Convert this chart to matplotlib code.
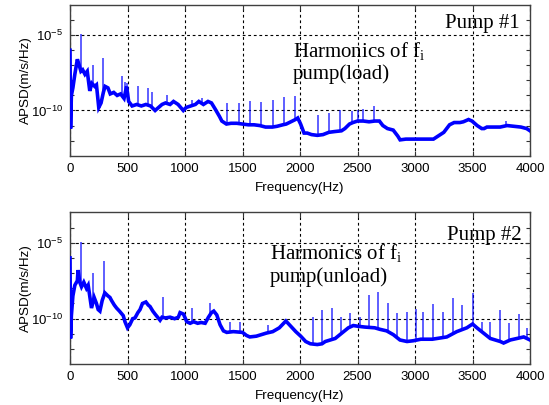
import numpy as np
import matplotlib
matplotlib.use("Agg")
import matplotlib.pyplot as plt
from matplotlib.ticker import FixedLocator, FuncFormatter, NullFormatter

# ---------------- data (log10 of APSD) ----------------
top_base_hz = [0, 5, 12, 25, 42, 64, 80, 95, 110, 130, 150, 172, 190, 215, 230, 250, 270, 290, 305,
               330, 350, 380, 410, 440, 470, 492, 510, 540, 580, 620, 660, 700, 740, 770, 800, 830,
               870, 900, 940, 985, 1010, 1050, 1090, 1120, 1160, 1200, 1230, 1262, 1300, 1320, 1360,
               1400, 1450, 1500, 1550, 1600, 1650, 1700, 1760, 1800, 1850, 1880, 1920, 1960, 1980,
               2005, 2035, 2063, 2100, 2150, 2200, 2250, 2300, 2360, 2390, 2430, 2460, 2500, 2550,
               2600, 2650, 2690, 2720, 2760, 2810, 2850, 2870, 2920, 3000, 3080, 3160, 3190, 3250,
               3300, 3340, 3390, 3420, 3465, 3495, 3540, 3580, 3600, 3625, 3680, 3740, 3800, 3860,
               3920, 3970, 4000]
top_base_log = [-6.0, -11.2, -9.0, -8.5, -7.6, -6.6, -7.0, -7.4, -7.3, -7.6, -7.4, -8.7, -8.2, -8.4,
                -8.3, -9.8, -9.5, -8.8, -8.4, -8.5, -8.9, -8.8, -9.0, -8.9, -9.2, -8.4, -9.4, -9.7,
                -9.6, -9.7, -9.6, -9.7, -10.0, -9.8, -9.6, -9.5, -9.6, -9.4, -9.6, -10.0, -9.8,
                -9.7, -9.6, -9.4, -9.6, -9.4, -9.5, -9.9, -10.4, -10.7, -10.9, -10.85, -10.85,
                -10.9, -10.95, -10.95, -11.0, -11.1, -11.1, -11.05, -10.95, -10.9, -10.75, -10.6,
                -10.5, -10.9, -11.5, -11.5, -11.6, -11.65, -11.6, -11.45, -11.4, -11.35, -11.2,
                -10.9, -10.8, -10.7, -10.7, -10.75, -10.7, -10.7, -11.0, -11.2, -11.3, -11.7,
                -11.95, -11.9, -11.9, -11.9, -11.9, -11.75, -11.45, -10.95, -10.8, -10.8, -10.75,
                -10.6, -10.7, -11.0, -11.2, -11.2, -11.1, -11.1, -11.1, -11.0, -11.05, -11.1,
                -11.2, -11.35]
top_spike_hz = [100, 201, 288, 449, 475, 492, 594, 681, 710, 840, 1060, 1150, 1365, 1470, 1565,
                1665, 1768, 1862, 1958, 2155, 2256, 2350, 2450, 2500, 2545, 2645, 3790]
top_spike_log = [-4.95, -6.95, -6.5, -7.7, -8.1, -8.2, -8.4, -8.5, -8.8, -8.96, -9.3, -9.2, -9.5,
                 -9.5, -9.4, -9.45, -9.3, -9.1, -9.05, -10.3, -10.15, -9.95, -10.05, -9.95, -9.9,
                 -9.7, -10.7]

bot_base_hz = [0, 5, 12, 25, 42, 64, 70, 85, 100, 120, 143, 158, 187, 210, 230, 245, 260, 280, 303,
               330, 347, 361, 385, 405, 430, 463, 478, 500, 520, 545, 565, 590, 609, 630, 660, 680,
               696, 720, 740, 783, 800, 830, 870, 910, 942, 957, 987, 1015, 1045, 1075, 1110, 1140,
               1175, 1204, 1230, 1250, 1276, 1305, 1334, 1363, 1420, 1500, 1534, 1563, 1620, 1706,
               1763, 1820, 1877, 1920, 1963, 2006, 2049, 2090, 2150, 2191, 2220, 2306, 2363, 2420,
               2463, 2506, 2563, 2650, 2695, 2753, 2811, 2869, 2930, 2985, 3050, 3150, 3276, 3363,
               3450, 3500, 3538, 3596, 3654, 3741, 3770, 3828, 3887, 3945, 4000]
bot_base_log = [-6.0, -11.3, -9.8, -8.5, -7.8, -7.5, -6.8, -7.6, -7.9, -7.6, -8.0, -7.8, -9.3,
                -8.6, -9.0, -9.4, -9.5, -8.8, -8.3, -8.5, -8.6, -8.8, -9.1, -9.3, -9.5, -9.8,
                -10.2, -10.6, -10.4, -10.0, -9.95, -9.6, -9.4, -9.0, -8.9, -9.1, -9.2, -9.5,
                -9.7, -10.1, -9.9, -9.95, -9.9, -10.0, -9.9, -9.6, -9.7, -10.2, -10.3, -10.2,
                -10.3, -10.25, -10.3, -9.9, -9.6, -9.5, -9.75, -10.4, -10.8, -10.9, -10.85,
                -10.9, -11.1, -11.2, -11.15, -10.95, -10.85, -10.6, -10.15, -10.5, -10.85,
                -11.15, -11.5, -11.65, -11.7, -11.65, -11.5, -11.3, -10.95, -10.6, -10.45,
                -10.5, -10.55, -10.6, -10.7, -10.8, -11.05, -11.4, -11.5, -11.45, -11.35,
                -11.35, -11.2, -10.85, -10.6, -10.35, -10.6, -10.95, -11.3, -11.5, -11.6,
                -11.4, -11.3, -11.2, -11.4]
bot_spike_hz = [100, 201, 295, 812, 1060, 1218, 1391, 1477, 1720, 2116, 2195, 2276, 2357, 2436,
                2520, 2600, 2682, 2767, 2840, 2927, 3009, 3073, 3160, 3241, 3328, 3407, 3500,
                3581, 3654, 3735, 3814, 3901, 3974]
bot_spike_log = [-4.93, -7.0, -6.2, -8.6, -9.3, -8.96, -10.2, -10.2, -10.4, -9.9, -9.45, -9.3,
                 -9.9, -9.6, -9.9, -8.45, -8.25, -8.95, -9.6, -9.55, -9.35, -9.55, -9.05, -9.55,
                 -8.65, -9.1, -8.3, -10.2, -10.2, -9.4, -10.3, -9.7, -10.6]

x_ticks = [0, 500, 1000, 1500, 2000, 2500, 3000, 3500, 4000]
y_major_exp = [-10, -5]
y_minor_exp = [-12, -11, -9, -8, -7, -6, -4]

panels = [
    dict(base_hz=top_base_hz, base_log=top_base_log, sp_hz=top_spike_hz, sp_log=top_spike_log,
         pump="Pump #1", line2="pump(load)", rect=[0.1275, 0.6156, 0.838, 0.372],
         pump_pos=(0.978, 0.847), harm_pos=(0.485, 0.652), line2_pos=(0.485, 0.509),
         xlab_y=-0.175),
    dict(base_hz=bot_base_hz, base_log=bot_base_log, sp_hz=bot_spike_hz, sp_log=bot_spike_log,
         pump="Pump #2", line2="pump(unload)", rect=[0.1275, 0.1005, 0.838, 0.3753],
         pump_pos=(0.982, 0.818), harm_pos=(0.435, 0.695), line2_pos=(0.435, 0.541),
         xlab_y=-0.169),
]

sans = "Liberation Sans"
serif = "Liberation Serif"
blue = "#0000ff"

fig = plt.figure(figsize=(5.49, 4.05), dpi=100)
fig.patch.set_facecolor("white")

def ylab_fmt(v, pos):
    e = int(round(np.log10(v)))
    return r"$\mathregular{10^{%d}}$" % e

for p in panels:
    ax = fig.add_axes(p["rect"])
    bh = np.array(p["base_hz"], dtype=float)
    bl = np.array(p["base_log"], dtype=float)
    sh = np.array(p["sp_hz"], dtype=float)
    sl = np.array(p["sp_log"], dtype=float)
    # spikes rise from the baseline level at their frequency
    s_bottom = np.interp(sh, bh, bl)
    ax.vlines(sh, 10.0 ** s_bottom, 10.0 ** sl, color=blue, lw=1.1, alpha=0.8, zorder=2)
    ax.plot(bh, 10.0 ** bl, color=blue, lw=2.6, solid_joinstyle="miter", zorder=3)

    ax.set_yscale("log")
    ax.set_xlim(0, 4000)
    ax.set_ylim(1e-13, 1e-3)
    ax.xaxis.set_major_locator(FixedLocator(x_ticks))
    ax.yaxis.set_major_locator(FixedLocator([10.0 ** e for e in y_major_exp]))
    ax.yaxis.set_minor_locator(FixedLocator([10.0 ** e for e in y_minor_exp]))
    ax.yaxis.set_major_formatter(FuncFormatter(ylab_fmt))
    ax.yaxis.set_minor_formatter(NullFormatter())
    ax.tick_params(which="both", direction="in", top=True, right=True, length=3.5,
                   width=0.8, color="#333333", labelsize=9.5, pad=5)
    ax.tick_params(which="minor", length=3.0)
    for lab in ax.get_xticklabels() + ax.get_yticklabels():
        lab.set_fontfamily(sans)
    ax.grid(True, which="major", color="black", linestyle=(0, (2.5, 2.5)), lw=0.8)
    for sp in ax.spines.values():
        sp.set_color("#404040")
        sp.set_linewidth(1.0)

    ax.set_xlabel("Frequency(Hz)", fontfamily=sans, fontsize=9.7)
    ax.xaxis.set_label_coords(0.5, p["xlab_y"])
    ax.set_ylabel("APSD(m/s/Hz)", fontfamily=sans, fontsize=9.7)
    ax.yaxis.set_label_coords(-0.083, 0.5)

    ax.text(p["pump_pos"][0], p["pump_pos"][1], p["pump"], transform=ax.transAxes,
            ha="right", va="baseline", fontfamily=serif, fontsize=15)
    ax.text(p["harm_pos"][0], p["harm_pos"][1], r"Harmonics of f$\mathregular{_i}$",
            transform=ax.transAxes, ha="left", va="baseline", fontfamily=serif, fontsize=15)
    ax.text(p["line2_pos"][0], p["line2_pos"][1], p["line2"], transform=ax.transAxes,
            ha="left", va="baseline", fontfamily=serif, fontsize=15)

fig.savefig("out.png", dpi=100, facecolor="white")
